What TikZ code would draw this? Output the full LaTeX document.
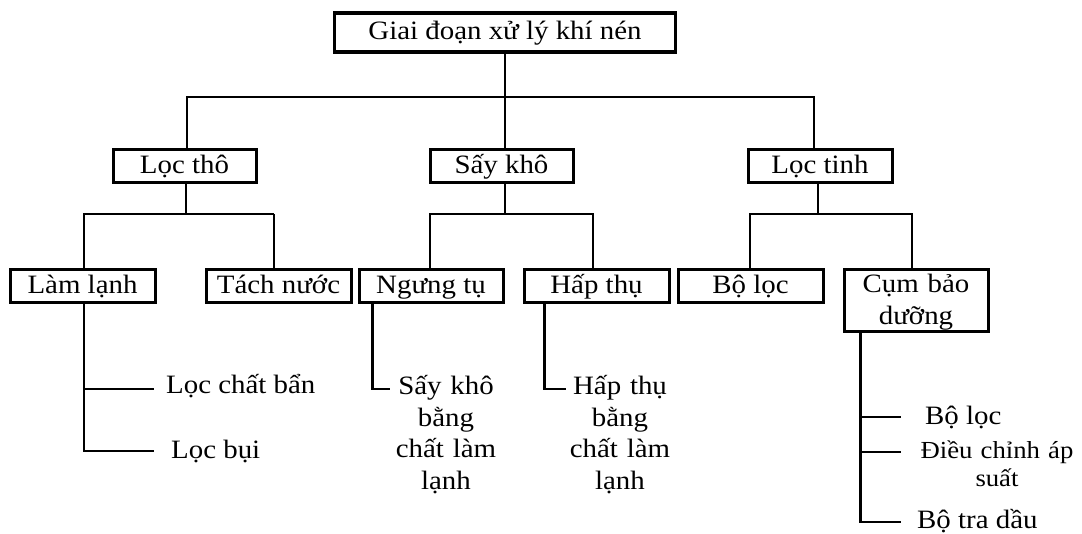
\documentclass[tikz,border=0pt]{standalone}
\usepackage{fontspec}
\setmainfont{Liberation Serif}[FakeStretch=1.09]
\begin{document}
\begin{tikzpicture}[x=1pt,y=-1pt,
  box/.style={draw, line width=3pt, inner sep=0pt, minimum height=33pt,
    text height=18.5pt, text depth=4pt, font=\fontsize{26.5}{31.5}\selectfont},
  conn/.style={line width=2.8pt},
  thinconn/.style={line width=1.8pt},
  leaf/.style={inner sep=0pt, anchor=base west, font=\fontsize{26.5}{31.5}\selectfont},
  leafc/.style={inner sep=0pt, anchor=base, text width=130pt, align=center,
    font=\fontsize{26.5}{31.5}\selectfont},
  ]
\useasboundingbox (0,0) rectangle (1082,534);
% boxes
\node[box, line width=3.6pt, minimum width=341pt, minimum height=39pt] (top) at (505,32.5) {Giai đoạn xử lý khí nén};
\node[box, minimum width=143pt] (loctho) at (184.5,166.5) {Lọc thô};
\node[box, minimum width=143pt] (saykho) at (501.5,166.5) {Sấy khô};
\node[box, minimum width=144pt] (loctinh) at (820,166.5) {Lọc tinh};
\node[box, minimum width=145pt] (lamlanh) at (82.5,286.5) {Làm lạnh};
\node[box, minimum width=145pt] (tachnuoc) at (278.5,286.5) {Tách nước};
\node[box, minimum width=144pt] (ngungtu) at (431,286.5) {Ngưng tụ};
\node[box, minimum width=145pt] (hapthu) at (596.5,286.5) {Hấp thụ};
\node[box, minimum width=145pt] (boloc) at (750.5,286.5) {Bộ lọc};
\node[box, minimum width=144pt, minimum height=62pt, text width=140pt, align=center, text depth=35pt] (cum) at (916,301) {Cụm bảo\\dưỡng};
% leaves
\node[leaf] (lcb) at (166,394) {Lọc chất bẩn};
\node[leaf] (lb) at (171,458) {Lọc bụi};
\node[leafc] (sk) at (446,395) {Sấy khô\\bằng\\chất làm\\lạnh};
\node[leafc] (ht) at (620,395) {Hấp thụ\\bằng\\chất làm\\lạnh};
\node[leaf] (bl) at (925,425) {Bộ lọc};
\node[leafc, text width=175pt, font=\fontsize{24.5}{28}\selectfont] (dc) at (997,459) {Điều chỉnh áp\\suất};
\node[leaf] (btd) at (917,528) {Bộ tra dầu};
% level 1 -> 2
\coordinate (j0) at (505,97);
\draw[conn] (top.south) -- (j0);
\draw[conn] ([xshift=2.5pt]loctho.north) |- (j0) -| ([xshift=-6pt]loctinh.north);
\draw[conn] (j0) -- ([xshift=3.5pt]saykho.north);
% Loc tho
\coordinate (j1) at (186,214);
\coordinate (j1r) at (274,214);
\draw[conn] ([xshift=1.5pt]loctho.south) -- (j1);
\draw[conn] ([xshift=1.5pt]lamlanh.north) |- (j1) -- (j1r);
\draw[thinconn] (j1r) -- (j1r |- tachnuoc.north);
% Say kho
\coordinate (j2) at (505,214);
\draw[conn] ([xshift=3.5pt]saykho.south) -- (j2);
\draw[conn] ([xshift=-1pt]ngungtu.north) |- (j2) -| ([xshift=-3.5pt]hapthu.north);
% Loc tinh
\coordinate (j3) at (818,214);
\draw[conn] ([xshift=-2pt]loctinh.south) -- (j3);
\draw[conn] ([xshift=-0.5pt]boloc.north) |- (j3) -| ([xshift=-4pt]cum.north);
% leaves of Lam lanh
\coordinate (e1) at (154,389);
\coordinate (e2) at (154,451);
\draw[conn] ([xshift=1.5pt]lamlanh.south) |- (e2);
\draw[conn] ([xshift=1.5pt]lamlanh.south) |- (e1);
% leaves of Ngung tu, Hap thu
\coordinate (e3) at (390,389);
\draw[conn] ([xshift=15pt]ngungtu.south west) |- (e3);
\coordinate (e4) at (566,389);
\draw[conn] ([xshift=22pt]hapthu.south west) |- (e4);
% leaves of Cum bao duong
\coordinate (e5) at (901,417);
\coordinate (e6) at (901,452);
\coordinate (e7) at (901,522);
\draw[conn] ([xshift=18pt]cum.south west) |- (e7);
\draw[conn] ([xshift=18pt]cum.south west) |- (e5);
\draw[conn] ([xshift=18pt]cum.south west) |- (e6);
\end{tikzpicture}
\end{document}
